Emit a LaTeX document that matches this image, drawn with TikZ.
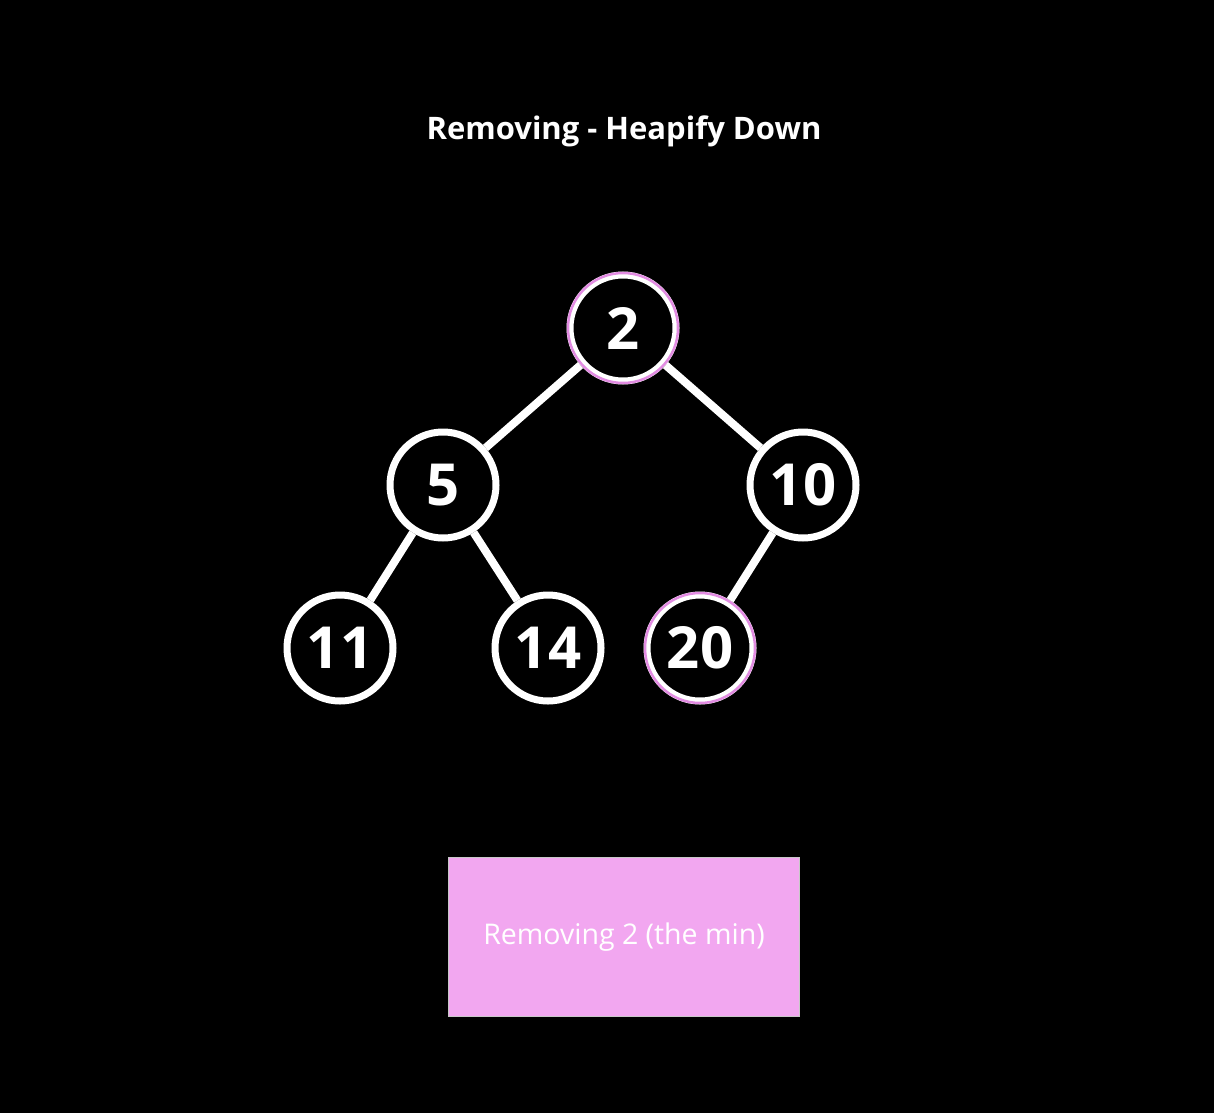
\documentclass[tikz,border=0pt]{standalone}
\usepackage{fontspec}
\setmainfont{Open Sans}
\usetikzlibrary{positioning}
\definecolor{heappink}{RGB}{242, 167, 240}
\definecolor{markviolet}{RGB}{226, 140, 226}
\definecolor{boxgrey}{RGB}{200, 200, 200}

\begin{document}
\begin{tikzpicture}[
    x=1pt, y=-1pt,
    heapnode/.style={
      circle,
      minimum size=106pt,
      draw=white,
      line width=7pt,
      text=white,
      font=\fontsize{58}{62}\selectfont\bfseries
    },
    marked/.style={
      circle,
      minimum size=110pt,
      draw=markviolet,
      line width=2.5pt
    },
    link/.style={draw=white, line width=8pt},
    caption/.style={
      rectangle,
      minimum width=351pt,
      minimum height=159pt,
      draw=boxgrey,
      line width=1.5pt,
      fill=heappink,
      text=white,
      font=\fontsize{28.5}{32}\selectfont
    }
  ]
    \fill[black] (0,0) rectangle (1214,1113);
    \useasboundingbox (0,0) rectangle (1214,1113);

    \node[text=white, font=\fontsize{31}{36}\selectfont\bfseries] (title) at (624,131) {Removing - Heapify Down};

    \node[heapnode] (n2) at (623,328) {2};
    \node[heapnode] (n5) at (443,485) {5};
    \node[heapnode] (n10) at (803,485) {10};
    \node[heapnode] (n11) at (340,648) {11};
    \node[heapnode] (n14) at (548,648) {14};
    \node[heapnode] (n20) at (700,648) {20};

    \node[marked] (m2) at (n2) {};
    \node[marked] (m20) at (n20) {};

    \draw[link] (n2) -- (n5);
    \draw[link] (n2) -- (n10);
    \draw[link] (n5) -- (n11);
    \draw[link] (n5) -- (n14);
    \draw[link] (n10) -- (n20);

    \node[caption] (note) at (624,937) {Removing 2 (the min)};
  \end{tikzpicture}
\end{document}
